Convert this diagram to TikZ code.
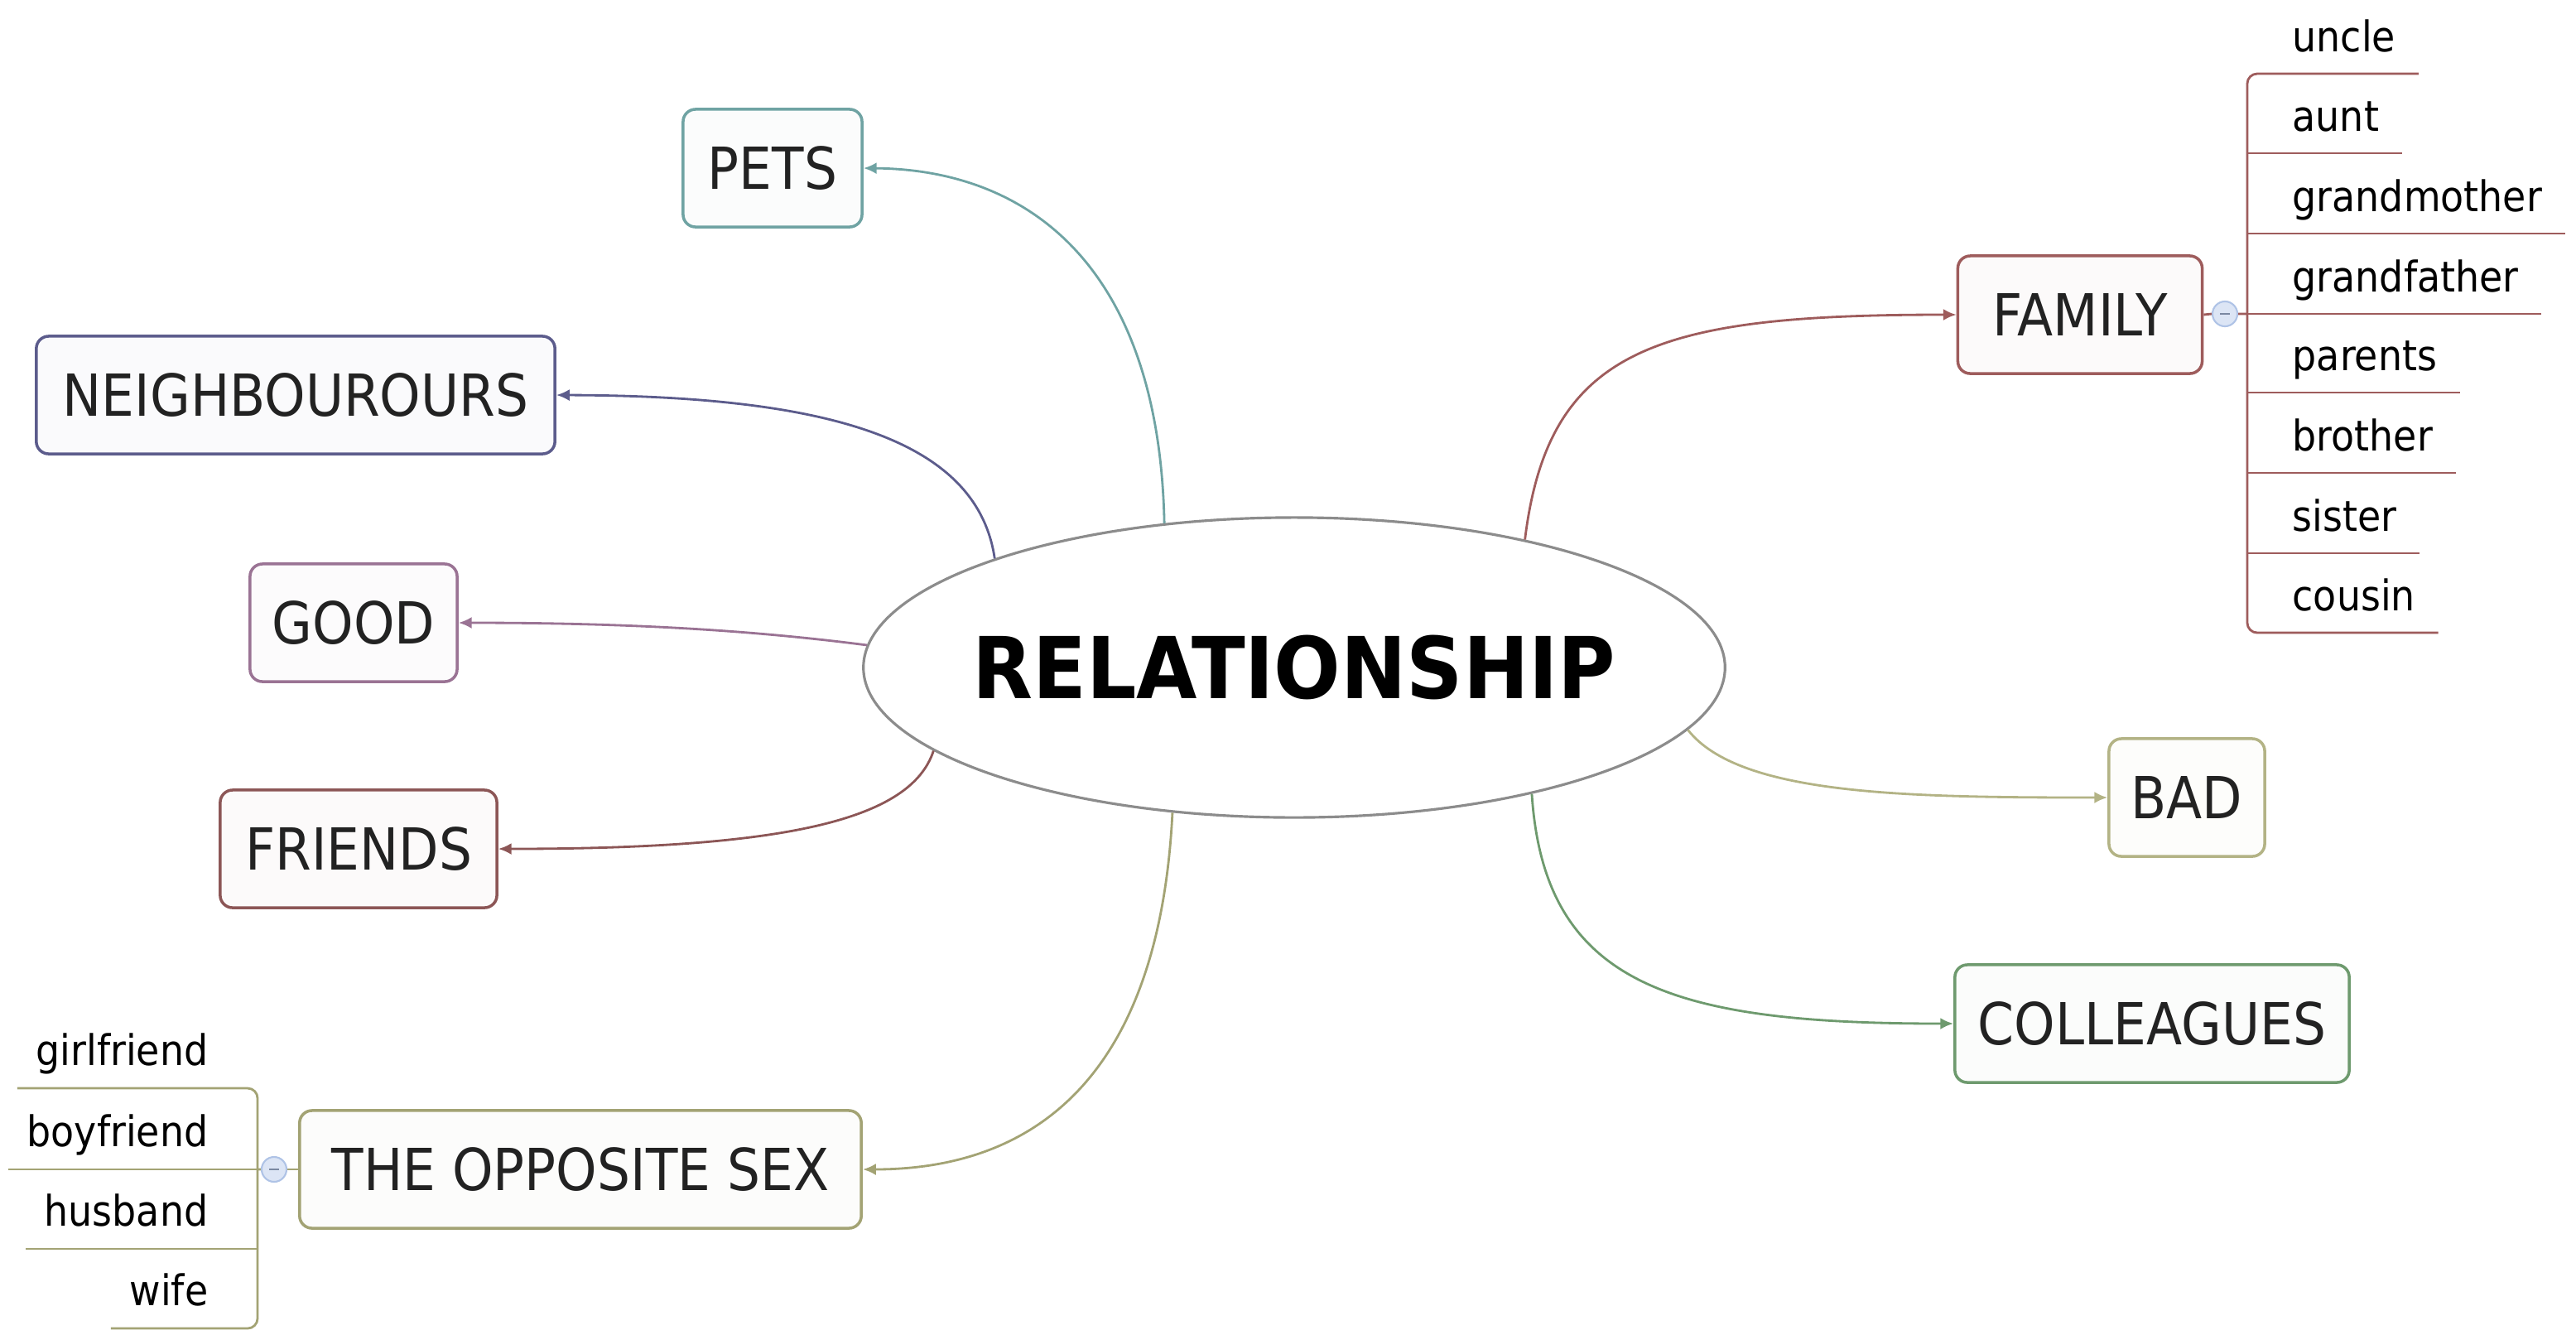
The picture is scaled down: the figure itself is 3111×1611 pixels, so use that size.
\documentclass[tikz,border=0pt]{standalone}
\usepackage{fontspec}
\setmainfont{DejaVu Sans}[FakeStretch=0.9]
\newfontfamily\relfont{DejaVu Sans}[FakeStretch=0.92]
\usetikzlibrary{shapes.geometric,arrows.meta,calc}
\definecolor{cPets}{HTML}{6FA3A3}
\definecolor{cNeigh}{HTML}{5C5C8C}
\definecolor{cGood}{HTML}{9A7394}
\definecolor{cFriends}{HTML}{8C5656}
\definecolor{cOpp}{HTML}{A3A374}
\definecolor{cFamily}{HTML}{9E5C5C}
\definecolor{cBad}{HTML}{B3B385}
\definecolor{cColl}{HTML}{6E9A6E}
\definecolor{cEll}{HTML}{8C8C8C}
\definecolor{cTxt}{HTML}{222222}
\definecolor{cTog}{HTML}{DCE5F5}
\definecolor{cTogB}{HTML}{AFC3E6}
\tikzset{
  topic/.style={draw=#1, fill=#1!3, rounded corners=0.15cm, line width=1pt,
    minimum height=1.42cm, inner sep=0pt, text=cTxt,
    font=\fontsize{19.9pt}{24pt}\selectfont},
  link/.style={draw=#1, line width=0.8pt, -{Latex[length=4.5pt,width=4pt]}},
  leaf/.style={inner sep=0pt, text=black, font=\fontsize{14.5pt}{17pt}\selectfont},
  toggle/.style={circle, draw=cTogB, fill=cTog, minimum size=0.3cm, inner sep=0pt,
    line width=0.6pt, path picture={\draw[cTogB!70!black, line width=0.6pt]
    ([xshift=-0.06cm]path picture bounding box.center) --
    ([xshift=0.06cm]path picture bounding box.center);}},
  famline/.style={draw=cFamily, line width=0.8pt},
  oppline/.style={draw=cOpp, line width=0.8pt}
}
\begin{document}
\begin{tikzpicture}[x=0.01cm, y=-0.01cm]
\useasboundingbox (0,0) rectangle (3111,1611);

% central node
\node[ellipse, draw=cEll, line width=0.9pt, fill=white, minimum width=10.4cm,
  minimum height=3.62cm, inner xsep=-0.26cm, inner ysep=0pt] (rel) at (1563,806)
  {\relfont\bfseries\fontsize{29.3pt}{34pt}\selectfont RELATIONSHIP};

% topics
\node[topic=cPets, minimum width=2.16cm] (pets) at (933,203) {PETS};
\node[topic=cNeigh, minimum width=6.26cm] (neigh) at (357,477) {NEIGHBOUROURS};
\node[topic=cGood, minimum width=2.5cm] (good) at (427,752) {GOOD};
\node[topic=cFriends, minimum width=3.34cm] (friends) at (433,1025) {FRIENDS};
\node[topic=cOpp, minimum width=6.78cm] (opp) at (701,1412) {THE OPPOSITE SEX};
\node[topic=cFamily, minimum width=2.95cm] (family) at (2512,380) {FAMILY};
\node[topic=cBad, minimum width=1.88cm] (bad) at (2641,963) {BAD};
\node[topic=cColl, minimum width=4.76cm] (coll) at (2599,1236) {COLLEAGUES};

% toggles
\node[toggle] (tf) at (2687,379) {};
\node[toggle] (to) at (331,1412) {};

% family leaves
\node[leaf, anchor=base west] (fu)  at (2768,62)  {uncle};
\node[leaf, anchor=base west] (fa)  at (2768,158) {aunt};
\node[leaf, anchor=base west] (fgm) at (2768,255) {grandmother};
\node[leaf, anchor=base west] (fgf) at (2768,352) {grandfather};
\node[leaf, anchor=base west] (fp)  at (2768,447) {parents};
\node[leaf, anchor=base west] (fb)  at (2768,544) {brother};
\node[leaf, anchor=base west] (fs)  at (2768,641) {sister};
\node[leaf, anchor=base west] (fc)  at (2768,737) {cousin};

\draw[famline, rounded corners=0.12cm]
  ([shift={(0.27cm,-0.27cm)}]fu.base east) -- ([shift={(-0.54cm,-0.27cm)}]fu.base west)
  -- ([shift={(-0.54cm,-0.27cm)}]fc.base west) -- ([shift={(0.27cm,-0.27cm)}]fc.base east);
\foreach \n in {fa,fgm,fgf,fp,fb,fs}
  \draw[famline] ([shift={(-0.54cm,-0.27cm)}]\n.base west) -- ([shift={(0.27cm,-0.27cm)}]\n.base east);
\draw[famline] (family.east) -- (tf.west);
\draw[famline] (tf.east) -- ([shift={(-0.54cm,-0.27cm)}]fgf.base west);

% opposite sex leaves
\node[leaf, anchor=base east] (og) at (252,1286) {girlfriend};
\node[leaf, anchor=base east] (ob) at (252,1384) {boyfriend};
\node[leaf, anchor=base east] (oh) at (252,1480) {husband};
\node[leaf, anchor=base east] (ow) at (252,1576) {wife};

\draw[oppline, rounded corners=0.12cm]
  ([shift={(-0.22cm,-0.28cm)}]og.base west) -- ([shift={(0.59cm,-0.28cm)}]og.base east)
  -- ([shift={(0.59cm,-0.28cm)}]ow.base east) -- ([shift={(-0.22cm,-0.28cm)}]ow.base west);
\foreach \n in {ob,oh}
  \draw[oppline] ([shift={(0.59cm,-0.28cm)}]\n.base east) -- ([shift={(-0.22cm,-0.28cm)}]\n.base west);
\draw[oppline] (opp.west) -- (to.east);
\draw[oppline] (to.west) -- ([shift={(0.59cm,-0.28cm)}]ob.base east);

% links
\draw[link=cPets] (rel.132) .. controls (1400,330) and (1250,205) .. (pets.east);
\draw[link=cNeigh] (rel.160) .. controls (1180,530) and (1000,478) .. (neigh.east);
\draw[link=cGood] (rel.177) .. controls (900,760) and (750,752) .. (good.east);
\draw[link=cFriends] (rel.193) .. controls (1100,990) and (950,1025) .. (friends.east);
\draw[link=cOpp] (rel.230) .. controls (1400,1300) and (1250,1412) .. (opp.east);
\draw[link=cFamily] (rel.29) .. controls (1870,420) and (2000,380) .. (family.west);
\draw[link=cBad] (rel.351) .. controls (2100,960) and (2300,963) .. (bad.west);
\draw[link=cColl] (rel.332) .. controls (1865,1190) and (2020,1236) .. (coll.west);
\end{tikzpicture}
\end{document}
